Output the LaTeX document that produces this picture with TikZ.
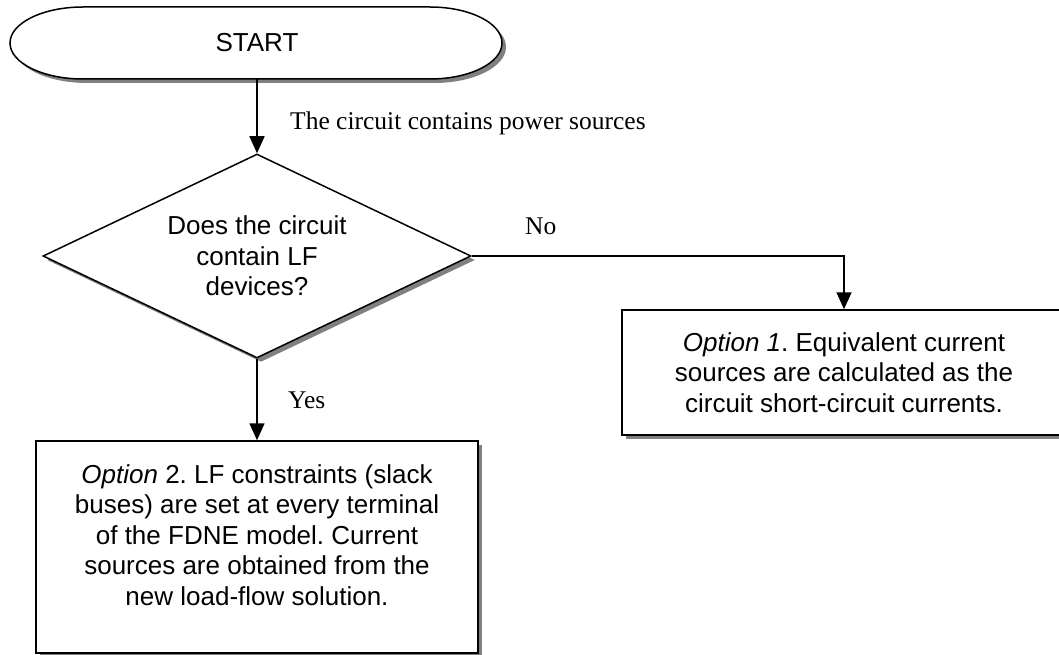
\documentclass[tikz,border=0pt]{standalone}
\usepackage{fontspec}
\setmainfont{Liberation Sans}
\newfontfamily\seriffont{Liberation Serif}
\usetikzlibrary{shapes.geometric,shadows,arrows.meta}
\frenchspacing
\begin{document}
\begin{tikzpicture}[x=1pt,y=1pt,
  shadowed/.style={drop shadow={shadow xshift=4pt,shadow yshift=-4pt,fill=black!50,opacity=1}},
  outline/.style={draw=black,line width=1.5pt,fill=white},
  boxtext/.style={align=center,inner sep=0pt,font=\fontsize{26}{30.5}\selectfont},
  box/.style={outline,shadowed,rectangle,boxtext},
  decision/.style={outline,shadowed,diamond,boxtext,minimum width=428pt,minimum height=204pt,shape aspect=2.1},
  conn/.style={line width=1.6pt,-{Triangle[length=17pt,width=15pt]}},
  lab/.style={inner sep=0pt,anchor=base west,font=\seriffont\fontsize{25.5}{30}\selectfont}]
\clip (0,0) rectangle (1059,-655);
% START terminator with elliptic ends
\begin{scope}[shift={(4,-4)}]
  \fill[black!50] (83,-7) -- (430,-7) arc[start angle=90,end angle=-90,x radius=72,y radius=36]
    -- (83,-79) arc[start angle=270,end angle=90,x radius=73,y radius=36] -- cycle;
\end{scope}
\draw[outline] (83,-7) -- (430,-7) arc[start angle=90,end angle=-90,x radius=72,y radius=36]
    -- (83,-79) arc[start angle=270,end angle=90,x radius=73,y radius=36] -- cycle;
\node[boxtext,minimum width=492pt,minimum height=72pt] (start) at (257,-43) {START};
% decision
\node[decision] (dec) at (257,-256) {Does the circuit\\contain LF\\devices?};
% option 1
\node[box,minimum width=444pt,minimum height=125pt] (opt1) at (844,-372.5)
  {\textit{Option 1}. Equivalent current\\sources are calculated as the\\circuit short-circuit currents.};
% option 2
\node[box,minimum width=442pt,minimum height=212pt] (opt2) at (257,-547) {};
\node[boxtext] (opt2text) at (257,-535)
  {\textit{Option} 2. LF constraints (slack\\buses) are set at every terminal\\of the FDNE model. Current\\sources are obtained from the\\new load-flow solution.};
% connectors
\draw[conn] (start.south) -- (dec.north);
\draw[conn] (dec.east) -| (opt1.north);
\draw[conn] (dec.south) -- (opt2.north);
% labels
\node[lab] (lpower) at (290,-130) {The circuit contains power sources};
\node[lab] (lno) at (525,-234) {No};
\node[lab] (lyes) at (288,-408) {Yes};
\end{tikzpicture}
\end{document}
